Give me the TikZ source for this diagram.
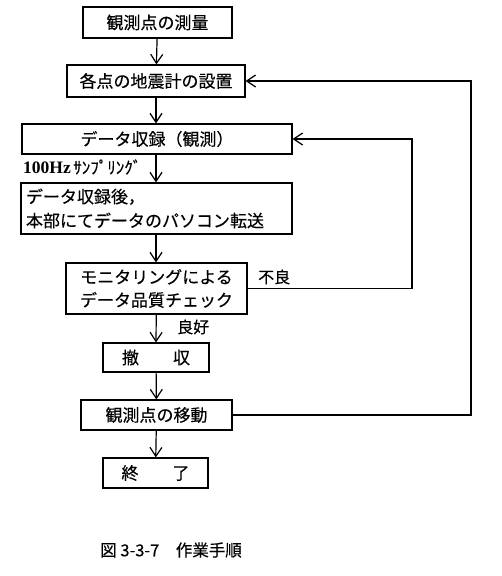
\documentclass[tikz,border=0pt]{standalone}
\usepackage{fontspec}
\setmainfont{Liberation Serif}
\newfontfamily\jp[FakeBold=0.3]{Noto Sans CJK JP}
\usetikzlibrary{arrows.meta, positioning, calc}

\tikzset{
  box/.style={draw, line width=1.2pt, inner sep=3pt, font=\jp\fontsize{17}{23}\selectfont},
  arr/.style={line width=1.2pt, -{Straight Barb[length=9pt,width=12pt]}},
  lbl/.style={font=\jp\fontsize{16}{18}\selectfont},
}

\begin{document}
\begin{tikzpicture}[x=1pt,y=-1pt]
            \useasboundingbox (0,0) rectangle (501,576);

            % 作業の箱
            \node[box, minimum width=149pt, minimum height=31pt] (survey) at (157.5,22.5) {観測点の測量};
            \node[box, minimum width=178pt, minimum height=32pt] (install) at (156,81) {各点の地震計の設置};
            \node[box, minimum width=270pt, minimum height=30pt] (collect) at (157,139) {データ収録（観測）};
            \node[box, text width=261pt, align=left, inner sep=5pt, minimum height=51pt,
                  font=\jp\fontsize{17}{24}\selectfont] (transfer) at (156.5,208.5)
                  {データ収録後，\\本部にてデータのパソコン転送};
            \node[box, minimum width=181pt, minimum height=51pt, align=center] (check) at (156.5,288.5)
                  {モニタリングによる\\データ品質チェック};
            \node[box, minimum width=106pt, minimum height=29pt] (remove) at (156,357.5) {撤　　収};
            \node[box, minimum width=151pt, minimum height=30pt] (move) at (156.5,415) {観測点の移動};
            \node[box, minimum width=105pt, minimum height=30pt] (finish) at (155.5,473) {終　　了};

            % 流れ
            \draw[arr] (survey) -- (install);
            \draw[arr] (install) -- (install |- collect.north);
            \draw[arr] (install |- collect.south) -- (install |- transfer.north);
            \draw[arr] (install |- transfer.south) -- (install |- check.north);
            \draw[arr] (check) -- (install |- remove.north);
            \draw[arr] (remove) -- (move);
            \draw[arr] (move) -- (finish);

            % 戻り
            \coordinate (backA) at (412,0);
            \coordinate (backB) at (471,0);
            \draw[arr] (check.east) -| (backA |- collect.east) -- (collect.east);
            \draw[arr] (move.east) -| (backB |- install.east) -- (install.east);

            % ラベル
            \node[anchor=west, inner sep=0pt] (rate) at (23,167)
                  {\textbf{\fontsize{17.5}{18}\selectfont 100Hz} {\jp\fontsize{17}{18}\selectfont ｻﾝﾌﾟﾘﾝｸﾞ}};
            \node[lbl, anchor=west, inner sep=0pt] (bad) at (258,277) {不良};
            \node[lbl, anchor=west, inner sep=0pt] (good) at (177,327) {良好};

            % 図番号
            \node[anchor=west, inner sep=0pt, font=\jp\fontsize{16.5}{20}\selectfont] (caption) at (100,550)
                  {図 3-3-7　作業手順};
        \end{tikzpicture}
\end{document}
